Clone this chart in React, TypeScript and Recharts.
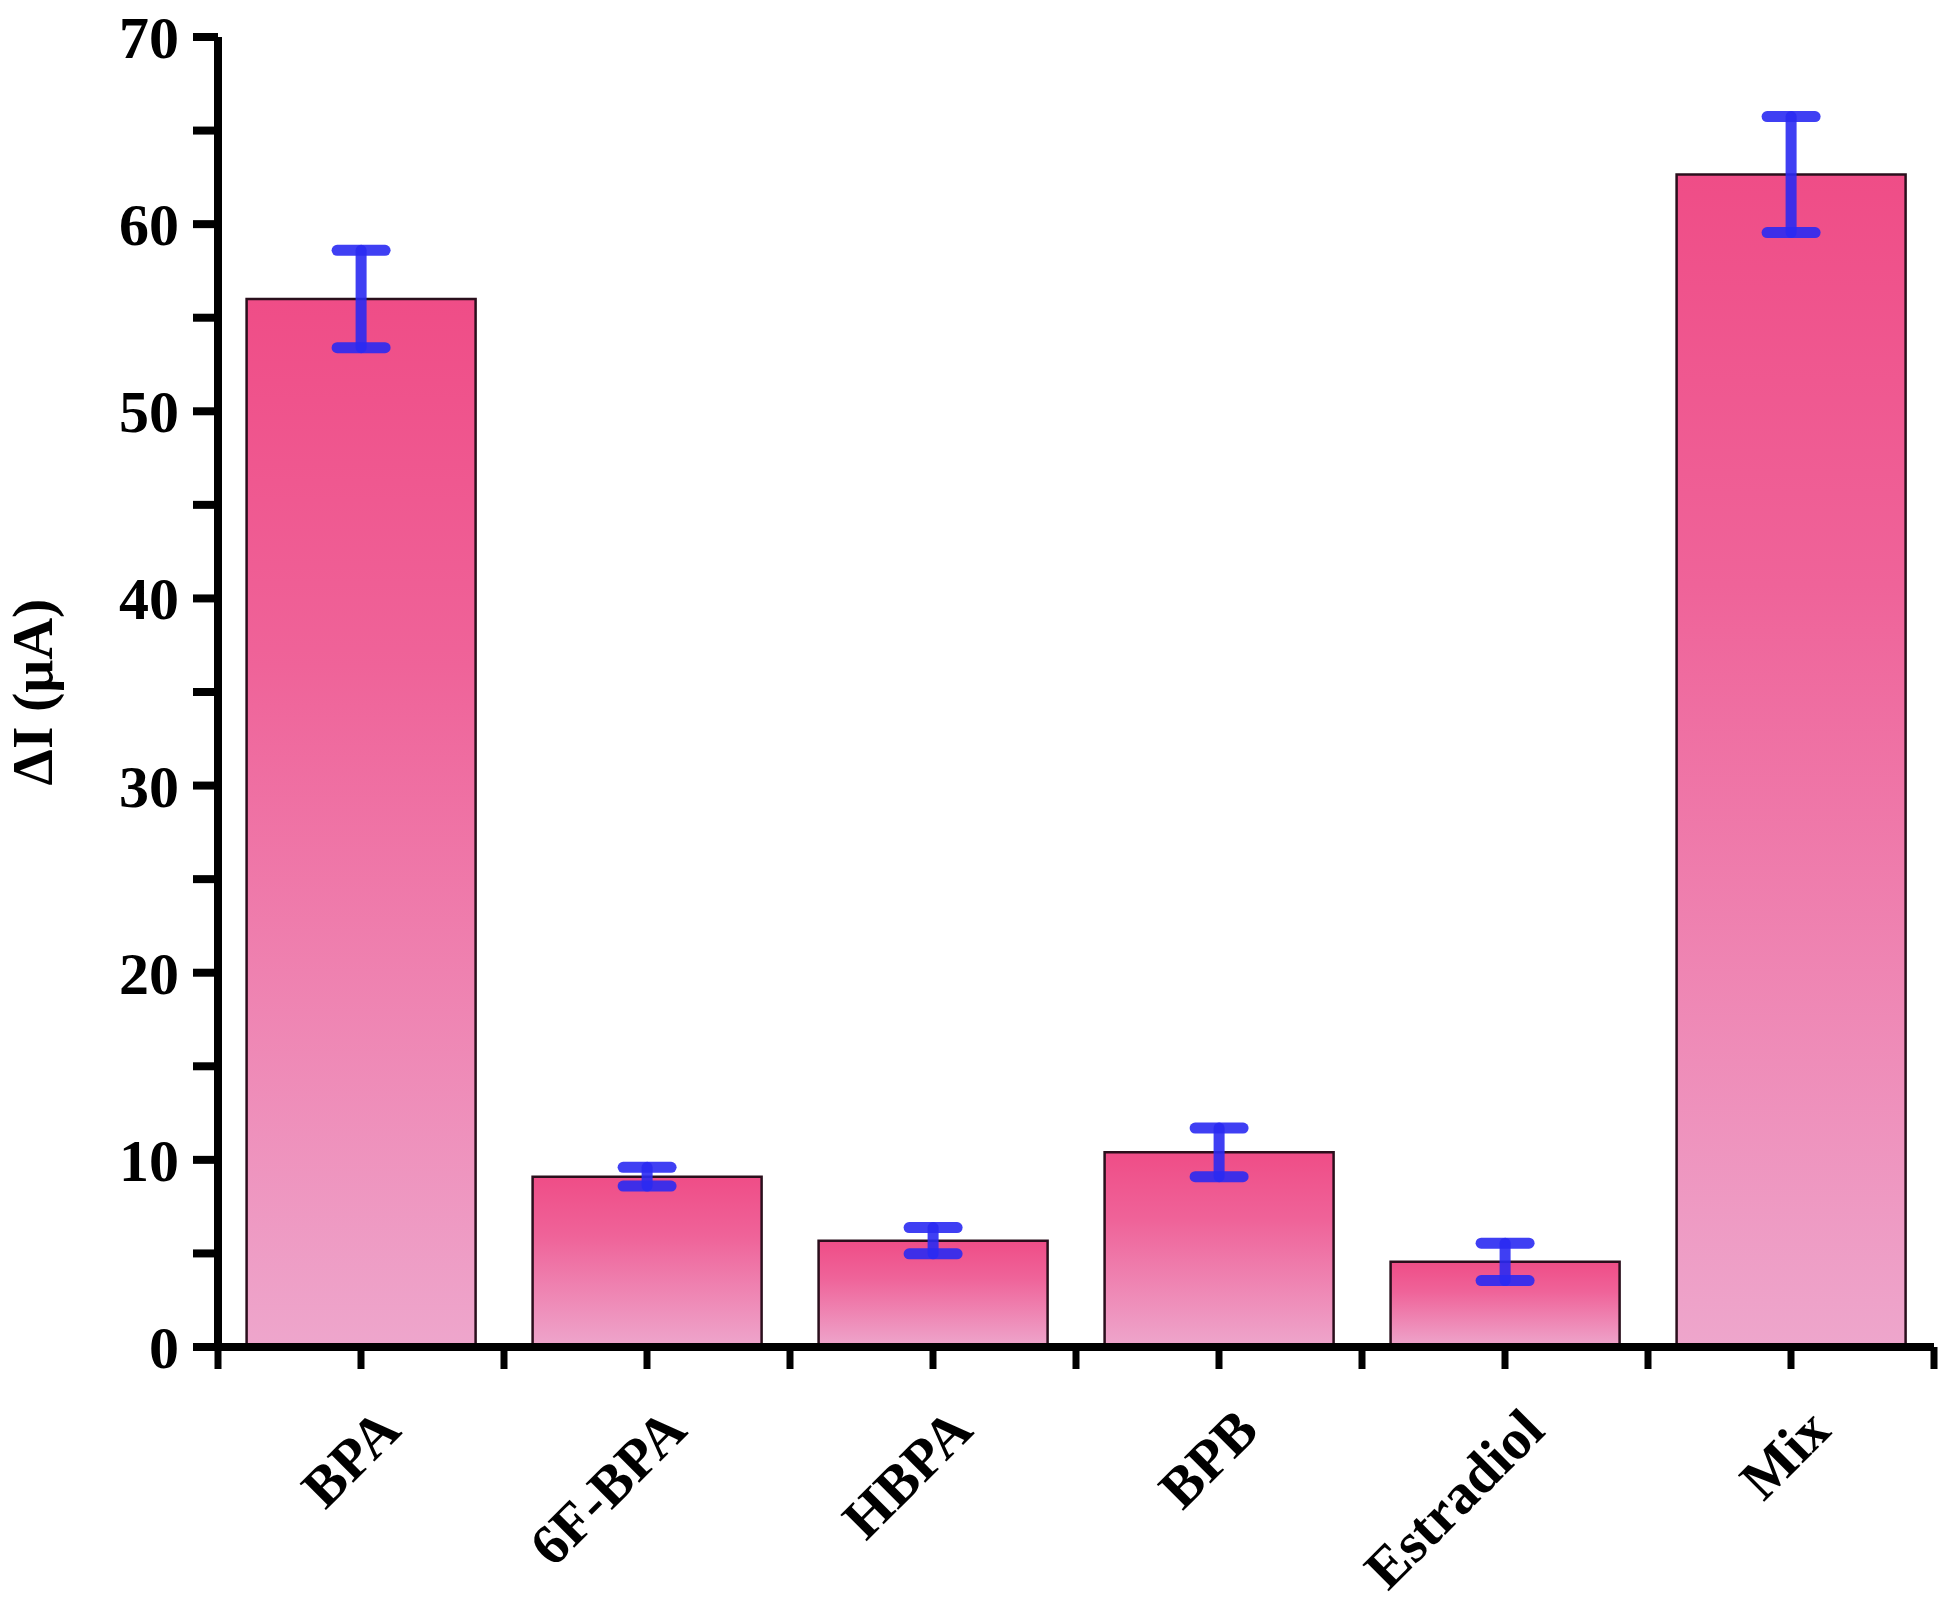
import React from 'react';
import { BarChart, Bar, XAxis, YAxis, ErrorBar, Label } from 'recharts';

const categories = ['BPA', '6F-BPA', 'HBPA', 'BPB', 'Estradiol', 'Mix'];
const values = [56.0, 9.1, 5.68, 10.4, 4.55, 62.65];
const errors = [2.6, 0.5, 0.7, 1.3, 1.0, 3.1];
const yTicks = [0, 5, 10, 15, 20, 25, 30, 35, 40, 45, 50, 55, 60, 65, 70];
const yLabelTicks = [0, 10, 20, 30, 40, 50, 60, 70];

const data = categories.map((name, i) => ({ name, value: values[i], err: errors[i] }));

const textStyle: React.CSSProperties = {
  fontFamily: "'Liberation Serif', 'Times New Roman', Times, serif",
  fontWeight: 700,
};

const YTick = (props: any) => {
  const { x, y, payload } = props;
  if (!yLabelTicks.includes(payload.value)) return <g />;
  return (
    <text x={x} y={y} dy="0.35em" textAnchor="end" style={{ ...textStyle, fontSize: 60 }} fill="#000">
      {payload.value}
    </text>
  );
};

const XTick = (props: any) => {
  const { x, y, payload, index } = props;
  const half = payload && payload.offset ? payload.offset : 143;
  const ax = x + 42;
  const ay = y + 64;
  return (
    <g>
      <line x1={x - half} x2={x - half} y1={y - 22} y2={y} stroke="#000" strokeWidth={7} />
      {index === categories.length - 1 && (
        <line x1={x + half} x2={x + half} y1={y - 22} y2={y} stroke="#000" strokeWidth={7} />
      )}
      <text
        x={ax}
        y={ay}
        textAnchor="end"
        transform={`rotate(-45, ${ax}, ${ay})`}
        style={{ ...textStyle, fontSize: 57 }}
        fill="#000"
      >
        {payload.value}
      </text>
    </g>
  );
};

const YLabel = (props: any) => {
  const vb = props.viewBox || { x: 0, y: 37, width: 218, height: 1310 };
  const cx = 52;
  const cy = vb.y + vb.height / 2;
  return (
    <text
      x={cx}
      y={cy}
      textAnchor="middle"
      transform={`rotate(-90, ${cx}, ${cy})`}
      style={{ ...textStyle, fontSize: 58 }}
      fill="#000"
    >
      ΔI (μA)
    </text>
  );
};

export default function App() {
  return (
    <div style={{ position: 'absolute', left: 0, top: 0, width: 1950, height: 1609, background: '#fff' }}>
      <BarChart
        width={1950}
        height={1609}
        data={data}
        margin={{ top: 37, right: 16, left: 0, bottom: 62 }}
        barCategoryGap="10%"
      >
        <defs>
          <linearGradient id="barGrad" x1="0" y1="0" x2="0" y2="1">
            <stop offset="0%" stopColor="#ef4d87" />
            <stop offset="35%" stopColor="#ef6399" />
            <stop offset="100%" stopColor="#eea6cc" />
          </linearGradient>
        </defs>
        <XAxis
          dataKey="name"
          type="category"
          height={200}
          interval={0}
          tickSize={22}
          tickMargin={0}
          axisLine={{ stroke: '#000', strokeWidth: 8 }}
          tickLine={{ stroke: '#000', strokeWidth: 7 }}
          tick={<XTick />}
        />
        <YAxis
          type="number"
          domain={[0, 70]}
          ticks={yTicks}
          interval={0}
          width={218}
          tickSize={25}
          tickMargin={14}
          allowDataOverflow
          axisLine={{ stroke: '#000', strokeWidth: 8 }}
          tickLine={{ stroke: '#000', strokeWidth: 8 }}
          tick={<YTick />}
        >
          <Label content={<YLabel />} />
        </YAxis>
        <Bar dataKey="value" fill="url(#barGrad)" stroke="#2a0f1c" strokeWidth={2.5} isAnimationActive={false}>
          <ErrorBar
            dataKey="err"
            width={24}
            stroke="#2a2af2"
            strokeOpacity={0.9}
            strokeWidth={11}
            strokeLinecap="round"
            isAnimationActive={false}
          />
        </Bar>
      </BarChart>
    </div>
  );
}
